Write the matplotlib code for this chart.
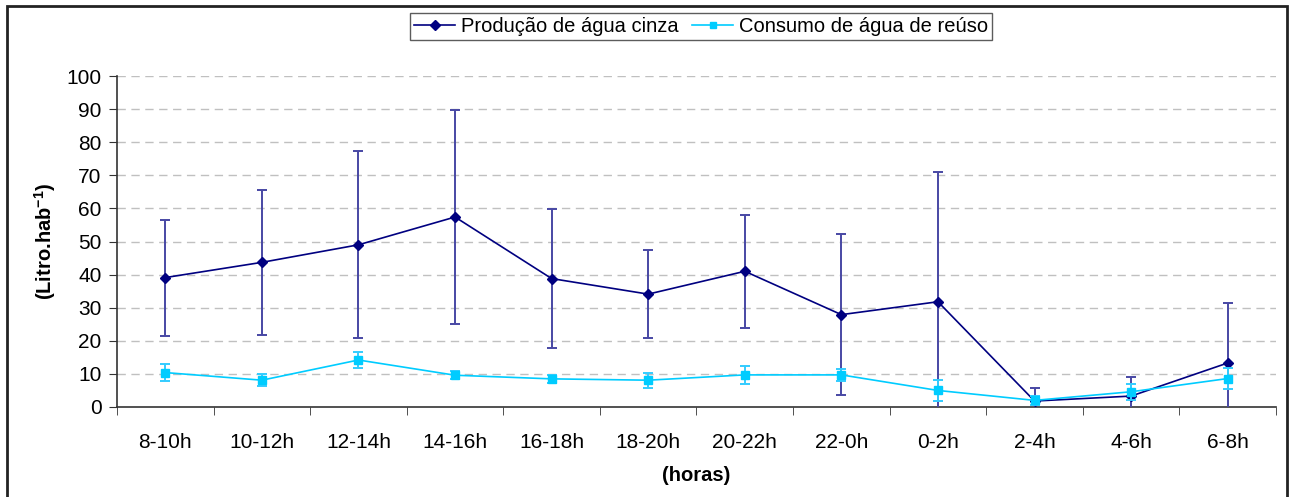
import numpy as np
import matplotlib
matplotlib.use('Agg')
import matplotlib.pyplot as plt
from matplotlib.patches import Rectangle
from matplotlib.lines import Line2D

plt.rcParams['font.family'] = ['Liberation Sans', 'DejaVu Sans']
plt.rcParams['mathtext.fontset'] = 'custom'
plt.rcParams['mathtext.rm'] = 'Liberation Sans'
plt.rcParams['mathtext.bf'] = 'Liberation Sans:bold'

horas = ['8-10h', '10-12h', '12-14h', '14-16h', '16-18h', '18-20h',
         '20-22h', '22-0h', '0-2h', '2-4h', '4-6h', '6-8h']
producao = [39.1, 43.7, 49.0, 57.4, 38.8, 34.1, 41.0, 27.9, 31.8, 1.8, 3.3, 13.3]
producao_dp = [17.5, 21.9, 28.3, 32.4, 21.1, 13.3, 17.1, 24.4, 39.2, 3.8, 5.9, 18.1]
consumo = [10.4, 8.1, 14.2, 9.6, 8.5, 8.1, 9.7, 9.7, 5.0, 2.0, 4.6, 8.6]
consumo_dp = [2.6, 1.9, 2.4, 1.2, 1.3, 2.3, 2.8, 1.8, 3.3, 1.3, 2.4, 3.2]

navy = '#000080'
cyan = '#00CCFF'


def plot_chart():
    fig = plt.figure(figsize=(12.96, 4.97), dpi=100)
    ax = fig.add_axes([117 / 1296, 90 / 497, 1159 / 1296, 331 / 497])
    x = np.arange(len(horas))

    ax.errorbar(x, producao, yerr=producao_dp, color=navy, marker='D', markersize=5.5,
                lw=1.2, ecolor='#4848a4', elinewidth=1.4, capsize=3.5, capthick=1.4,
                zorder=3)
    ax.errorbar(x, consumo, yerr=consumo_dp, color=cyan, marker='s', markersize=6,
                lw=1.2, ecolor='#33ccff', elinewidth=1.4, capsize=3.5, capthick=1.4,
                zorder=4)

    ax.set_ylim(0, 100)
    ax.set_xlim(-0.5, len(horas) - 0.5)
    ax.set_yticks(np.arange(0, 101, 10))
    ax.set_xticks(x)
    ax.set_xticklabels(horas)
    ax.set_xticks(np.arange(-0.5, len(horas), 1), minor=True)
    ax.tick_params(axis='x', which='major', length=0, pad=19, labelsize=15)
    ax.tick_params(axis='x', which='minor', length=6, direction='out', color='#333333')
    ax.tick_params(axis='y', length=6, direction='out', labelsize=15, color='#333333', pad=5)

    for v in range(10, 101, 10):
        ax.axhline(v, color='#c0c0c0', lw=1.0, ls=(0, (6, 4)), zorder=1)

    for side in ['top', 'right']:
        ax.spines[side].set_visible(False)
    for side in ['left', 'bottom']:
        ax.spines[side].set_color('#333333')
        ax.spines[side].set_linewidth(1.2)

    ax.set_xlabel('(horas)', fontsize=14.5, fontweight='bold', labelpad=10)
    ax.set_ylabel(r'(Litro.hab$^{\mathbf{-1}}$)', fontsize=14.5, fontweight='bold', labelpad=6)

    handles = [
        Line2D([], [], color=navy, marker='D', markersize=5, lw=1.2),
        Line2D([], [], color=cyan, marker='s', markersize=5, lw=1.2),
    ]
    labels = ['Produção de água cinza', 'Consumo de água de reúso']
    leg = ax.legend(handles, labels, loc='upper center', bbox_to_anchor=(0.504, 1.22), ncol=2,
                    fontsize=14.5, frameon=True, fancybox=False, edgecolor='#333333',
                    handlelength=2.0, handletextpad=0.3, columnspacing=0.7, borderpad=0.2)
    leg.get_frame().set_linewidth(1.0)

    fig.patches.append(Rectangle((7 / 1296, -0.05), 1280 / 1296, 1.05 - 6 / 497,
                                 transform=fig.transFigure, fill=False,
                                 edgecolor='#222222', lw=2.0))
    fig.savefig('out.png', dpi=100)


def main():
    plot_chart()


if __name__ == '__main__':
    main()
